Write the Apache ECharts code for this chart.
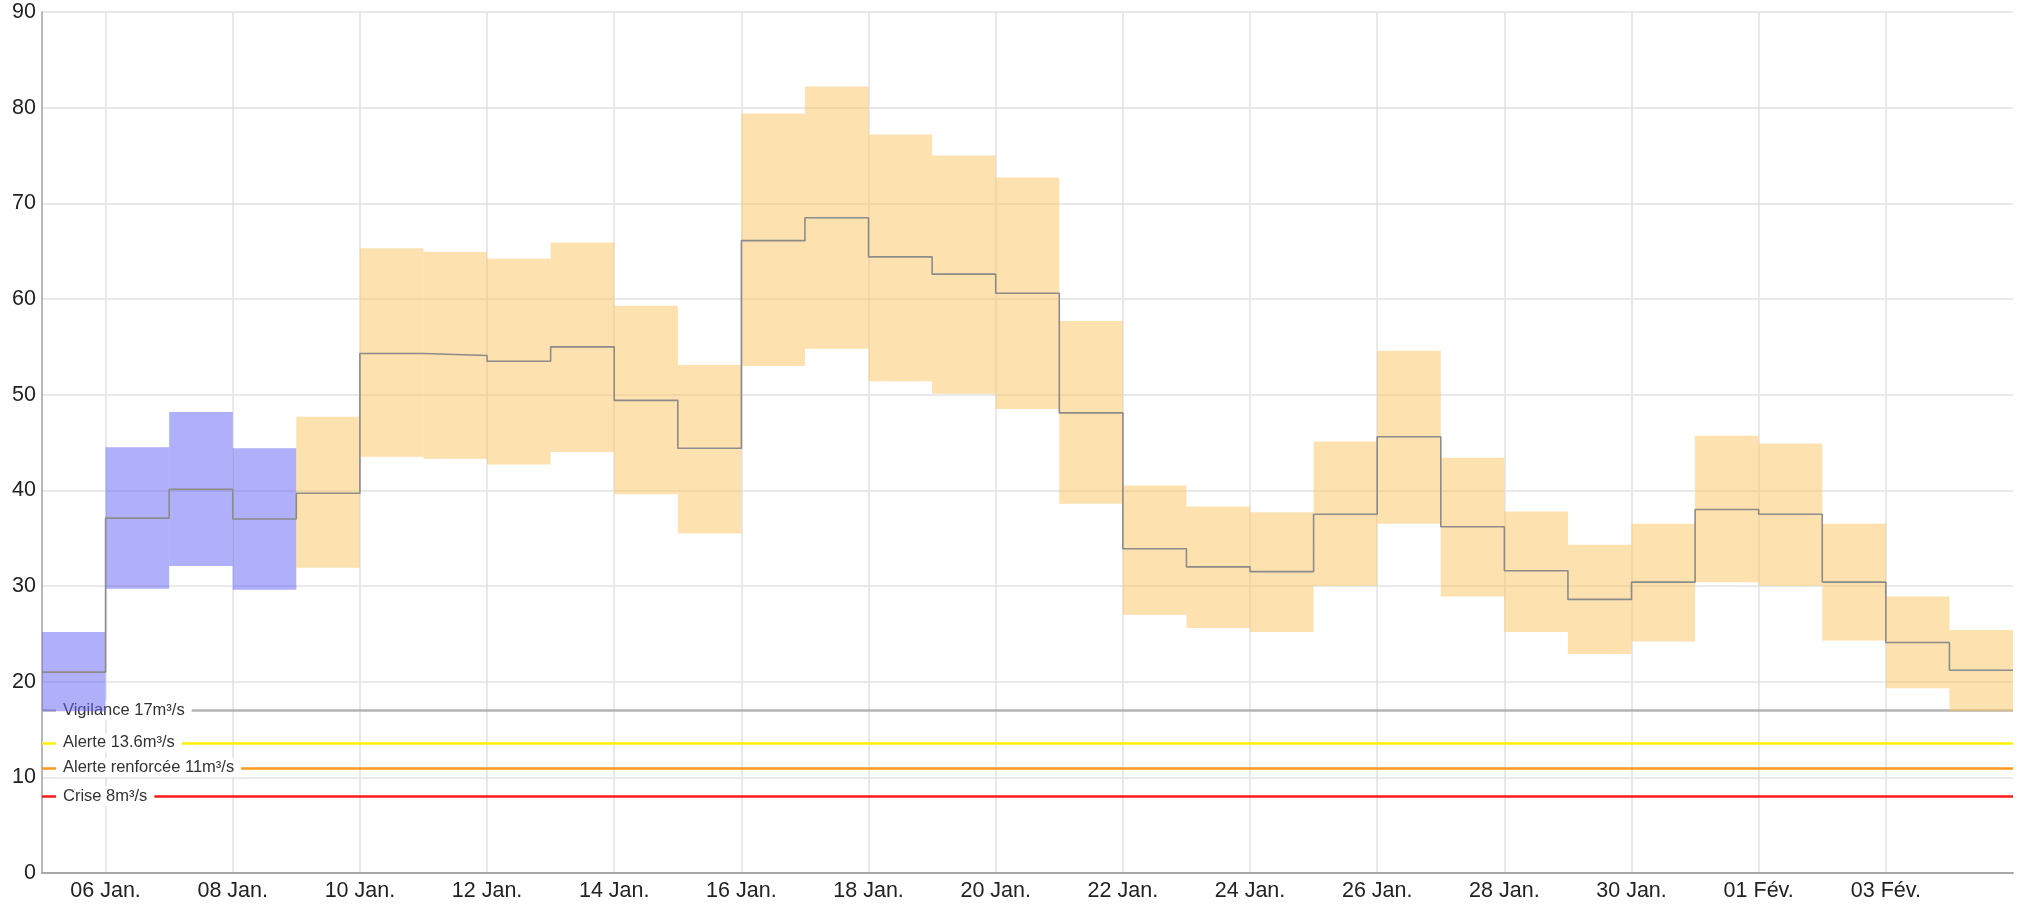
<!DOCTYPE html>
<html>
<head>
<meta charset="utf-8">
<script src="https://cdn.jsdelivr.net/npm/echarts@6/dist/echarts.min.js"></script>
<style>
  html, body { margin: 0; padding: 0; background: #fff; }
  #chart { width: 2022px; height: 907px; }
</style>
</head>
<body>
<div id="chart"></div>
<script>
// day boundaries on the x axis (05 Jan. -> 05 Fév.)
const dayLabels = [
  "05 Jan.", "06 Jan.", "07 Jan.", "08 Jan.", "09 Jan.", "10 Jan.", "11 Jan.", "12 Jan.",
  "13 Jan.", "14 Jan.", "15 Jan.", "16 Jan.", "17 Jan.", "18 Jan.", "19 Jan.", "20 Jan.",
  "21 Jan.", "22 Jan.", "23 Jan.", "24 Jan.", "25 Jan.", "26 Jan.", "27 Jan.", "28 Jan.",
  "29 Jan.", "30 Jan.", "31 Jan.", "01 Fév.", "02 Fév.", "03 Fév.", "04 Fév.", "05 Fév.",
];

// daily flow (m³/s), one value per day starting 05 Jan.
const flow = [
  21.0, 37.1, 40.1, 37.0, 39.7, 54.3, 54.1, 53.5, 55.0, 49.4, 44.4,
  66.1, 68.5, 64.4, 62.6, 60.6, 48.1, 33.9, 32.0, 31.5, 37.5, 45.6,
  36.2, 31.6, 28.6, 30.4, 38.0, 37.5, 30.4, 24.1, 21.2,
];
const flowLow = [
  16.9, 29.7, 32.1, 29.6, 31.9, 43.5, 43.3, 42.7, 44.0, 39.6, 35.5,
  53.0, 54.8, 51.4, 50.1, 48.5, 38.6, 27.0, 25.6, 25.2, 30.0, 36.5,
  28.9, 25.2, 22.9, 24.2, 30.4, 30.0, 24.3, 19.3, 16.9,
];
const flowHigh = [
  25.2, 44.5, 48.2, 44.4, 47.7, 65.3, 64.9, 64.2, 65.9, 59.3, 53.1,
  79.4, 82.2, 77.2, 75.0, 72.7, 57.7, 40.5, 38.3, 37.7, 45.1, 54.6,
  43.4, 37.8, 34.3, 36.5, 45.7, 44.9, 36.5, 28.9, 25.4,
];
// first days are observed (blue), the rest is forecast (orange)
const observedDays = 4;

const thresholdNames = ["Vigilance 17m³/s", "Alerte 13.6m³/s", "Alerte renforcée 11m³/s", "Crise 8m³/s"];
const thresholdValues = [17, 13.6, 11, 8];
const thresholdColors = ["#b4b4b4", "#fff000", "#ff9a1f", "#ff1a1a"];

const FONT = "'Liberation Sans', Arial, sans-serif";

const observedBands = [];
const forecastBands = [];
flow.forEach((_, i) => {
  const row = [i, flowLow[i], flowHigh[i]];
  if (i < observedDays) observedBands.push(row);
  else forecastBands.push(row);
});

// step line needs a closing point at the last boundary
const stepData = flow.concat([flow[flow.length - 1]]);

function renderBand(params, api) {
  const a = api.coord([api.value(0), api.value(2)]);
  const b = api.coord([api.value(0) + 1, api.value(1)]);
  return {
    type: "rect",
    shape: { x: a[0], y: a[1], width: b[0] - a[0], height: b[1] - a[1] },
    style: { fill: api.visual("color") },
  };
}

const everyOther = (index) => index % 2 === 1 && index < dayLabels.length - 1;

const chart = echarts.init(document.getElementById("chart"));
chart.setOption({
  animation: false,
  grid: { left: 42, right: 9, top: 12, bottom: 34 },
  xAxis: {
    type: "category",
    data: dayLabels,
    boundaryGap: false,
    axisLine: { lineStyle: { color: "#a8a8a8", width: 2 } },
    axisTick: { show: false },
    axisLabel: {
      interval: everyOther,
      color: "#222",
      fontFamily: FONT,
      fontSize: 21.5,
      margin: 7,
    },
    splitLine: {
      show: true,
      interval: everyOther,
      lineStyle: { color: "#e2e2e2", width: 1.5 },
    },
  },
  yAxis: {
    type: "value",
    min: 0,
    max: 90,
    interval: 10,
    axisLine: { show: true, lineStyle: { color: "#a0a0a0", width: 1.5 } },
    axisTick: { show: false },
    axisLabel: { color: "#222", fontFamily: FONT, fontSize: 21.5, margin: 6 },
    splitLine: { lineStyle: { color: "#e2e2e2", width: 1.5 } },
  },
  series: [
    {
      type: "line",
      data: [],
      z: 1,
      silent: true,
      markLine: {
        z: 1,
        silent: true,
        symbol: "none",
        data: thresholdValues.map((v, i) => ({
          yAxis: v,
          name: thresholdNames[i],
          lineStyle: { color: thresholdColors[i], width: 2.5, type: "solid" },
        })),
        label: {
          show: true,
          position: "insideStart",
          distance: [14, 0],
          formatter: "{b}",
          color: "#333",
          fontFamily: FONT,
          fontSize: 16.5,
          backgroundColor: "#fff",
          padding: [1, 7],
        },
      },
    },
    {
      type: "custom",
      name: "observé",
      z: 3,
      renderItem: renderBand,
      encode: { x: 0, y: [1, 2] },
      itemStyle: { color: "rgba(98, 98, 245, 0.5)" },
      data: observedBands,
    },
    {
      type: "custom",
      name: "prévision",
      z: 3,
      renderItem: renderBand,
      encode: { x: 0, y: [1, 2] },
      itemStyle: { color: "rgba(251, 195, 93, 0.5)" },
      data: forecastBands,
    },
    {
      type: "line",
      z: 4,
      step: "end",
      data: stepData,
      symbol: "none",
      lineStyle: { color: "#8c8c8c", width: 1.6 },
    },
  ],
});
</script>
</body>
</html>
